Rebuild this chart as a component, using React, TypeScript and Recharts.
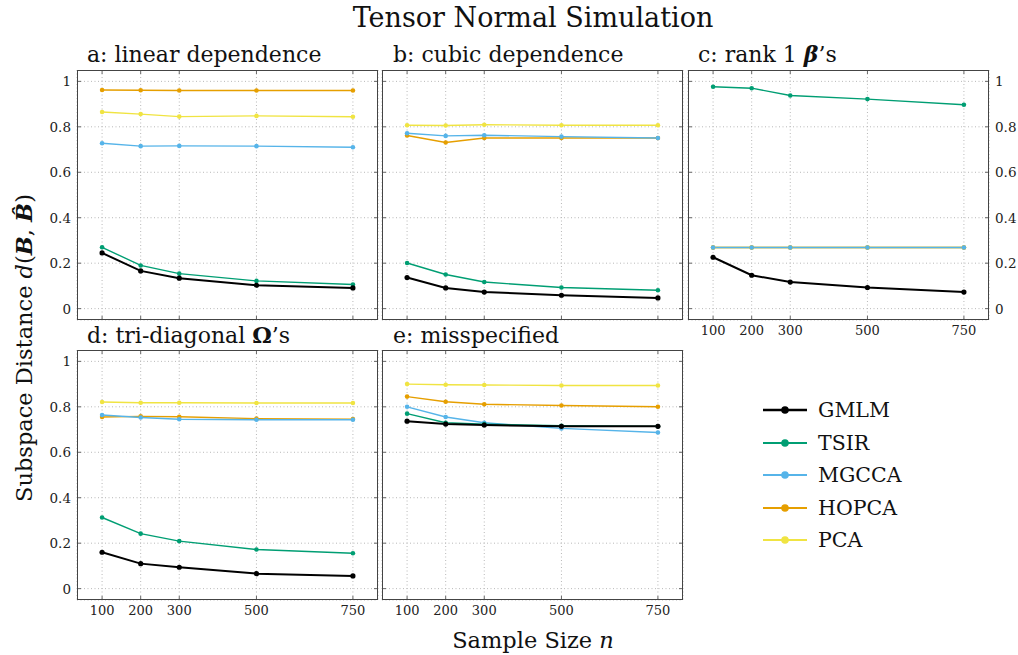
import { CartesianGrid, Line, LineChart, XAxis, YAxis } from "recharts";

const sampleSizes = [100, 200, 300, 500, 750];
const yTicks = [0, 0.2, 0.4, 0.6, 0.8, 1];
const methods = ["GMLM", "TSIR", "MGCCA", "HOPCA", "PCA"];
const methodColors: Record<string, string> = {
  GMLM: "#000000",
  TSIR: "#009E73",
  MGCCA: "#56B4E9",
  HOPCA: "#E69F00",
  PCA: "#F0E442",
};

// subspace distance per method, one small table per simulation
const linearDependence: Record<string, number[]> = {
  GMLM: [0.245, 0.166, 0.134, 0.103, 0.091],
  TSIR: [0.27, 0.19, 0.154, 0.122, 0.106],
  MGCCA: [0.728, 0.715, 0.716, 0.715, 0.71],
  HOPCA: [0.962, 0.961, 0.96, 0.96, 0.96],
  PCA: [0.865, 0.856, 0.845, 0.848, 0.844],
};
const cubicDependence: Record<string, number[]> = {
  GMLM: [0.137, 0.091, 0.073, 0.059, 0.047],
  TSIR: [0.201, 0.15, 0.117, 0.093, 0.081],
  MGCCA: [0.772, 0.76, 0.763, 0.757, 0.751],
  HOPCA: [0.762, 0.731, 0.751, 0.751, 0.751],
  PCA: [0.807, 0.806, 0.809, 0.807, 0.807],
};
const rankOne: Record<string, number[]> = {
  GMLM: [0.226, 0.147, 0.117, 0.093, 0.073],
  TSIR: [0.976, 0.97, 0.938, 0.922, 0.897],
  MGCCA: [0.269, 0.269, 0.269, 0.269, 0.269],
  HOPCA: [0.269, 0.269, 0.269, 0.269, 0.269],
  PCA: [0.269, 0.269, 0.269, 0.269, 0.269],
};
const triDiagonal: Record<string, number[]> = {
  GMLM: [0.16, 0.11, 0.094, 0.066, 0.056],
  TSIR: [0.313, 0.242, 0.209, 0.172, 0.156],
  MGCCA: [0.764, 0.753, 0.745, 0.743, 0.743],
  HOPCA: [0.755, 0.758, 0.756, 0.748, 0.746],
  PCA: [0.821, 0.818, 0.818, 0.817, 0.817],
};
const misspecified: Record<string, number[]> = {
  GMLM: [0.737, 0.724, 0.72, 0.714, 0.714],
  TSIR: [0.77, 0.73, 0.724, 0.717, 0.714],
  MGCCA: [0.8, 0.755, 0.73, 0.705, 0.687],
  HOPCA: [0.845, 0.822, 0.811, 0.806, 0.8],
  PCA: [0.9, 0.897, 0.896, 0.894, 0.894],
};

const FONT = "DejaVu Serif";
const PW = 301;
const PH = 250;
const PAD_L = 40;
const PAD_R = 40;
const PAD_B = 30;

function XTick(props: any) {
  const { x, payload, show } = props;
  return (
    <g>
      <line x1={x} x2={x} y1={PH} y2={PH - 4} stroke="#666" />
      <line x1={x} x2={x} y1={0} y2={4} stroke="#666" />
      {show && (
        <text x={x} y={PH + 15} textAnchor="middle" fontSize={13} fontFamily={FONT} fill="#222">
          {payload.value}
        </text>
      )}
    </g>
  );
}

function YTick(props: any) {
  const { y, payload, showLeft, showRight } = props;
  const l = PAD_L;
  const r = PAD_L + PW;
  return (
    <g>
      <line x1={l} x2={l + 4} y1={y} y2={y} stroke="#666" />
      <line x1={r - 4} x2={r} y1={y} y2={y} stroke="#666" />
      {showLeft && (
        <text x={l - 6} y={y + 5} textAnchor="end" fontSize={13.5} fontFamily={FONT} fill="#222">
          {payload.value}
        </text>
      )}
      {showRight && (
        <text x={r + 6} y={y + 5} textAnchor="start" fontSize={13.5} fontFamily={FONT} fill="#222">
          {payload.value}
        </text>
      )}
    </g>
  );
}

interface PanelProps {
  series: Record<string, number[]>;
  left: number;
  top: number;
  showLeft?: boolean;
  showRight?: boolean;
  showX?: boolean;
}

function Panel({ series, left, top, showLeft = false, showRight = false, showX = false }: PanelProps) {
  const rows = sampleSizes.map((n, i) => {
    const row: Record<string, number> = { n };
    methods.forEach((m) => (row[m] = series[m][i]));
    return row;
  });

  return (
    <div style={{ position: "absolute", left: left - PAD_L, top }}>
      <LineChart
        width={PAD_L + PW + PAD_R}
        height={PH + PAD_B}
        data={rows}
        margin={{ top: 0, right: PAD_R, bottom: 0, left: 0 }}
      >
        <CartesianGrid stroke="#b8b8b8" strokeDasharray="1 2.5" />
        <XAxis
          dataKey="n"
          type="number"
          domain={[35, 815]}
          ticks={sampleSizes}
          interval={0}
          height={PAD_B}
          axisLine={false}
          tickLine={false}
          tick={(p: any) => <XTick {...p} show={showX} />}
        />
        <YAxis
          type="number"
          domain={[-0.05, 1.05]}
          ticks={yTicks}
          interval={0}
          width={PAD_L}
          axisLine={false}
          tickLine={false}
          tick={(p: any) => <YTick {...p} showLeft={showLeft} showRight={showRight} />}
        />
        {[...methods].reverse().map((m) => (
          <Line
            key={m}
            dataKey={m}
            stroke={methodColors[m]}
            strokeWidth={m === "GMLM" ? 2 : 1.4}
            dot={{ r: m === "GMLM" ? 2.6 : 2.3, fill: methodColors[m], stroke: "none" }}
            isAnimationActive={false}
          />
        ))}
      </LineChart>
      <div
        style={{
          position: "absolute",
          left: PAD_L,
          top: 0,
          width: PW,
          height: PH,
          border: "1.4px solid #444",
          boxSizing: "border-box",
          pointerEvents: "none",
        }}
      />
    </div>
  );
}

const legendRows = [410, 443, 475, 508, 540];

export default function App() {
  return (
    <div
      style={{
        position: "absolute",
        left: 0,
        top: 0,
        width: 1018,
        height: 655,
        background: "#fff",
        fontFamily: FONT,
      }}
    >
      <Panel series={linearDependence} left={77} top={70} showLeft />
      <Panel series={cubicDependence} left={382} top={70} />
      <Panel series={rankOne} left={688} top={70} showRight showX />
      <Panel series={triDiagonal} left={77} top={350} showLeft showX />
      <Panel series={misspecified} left={382} top={350} showX />

      <svg
        width={1018}
        height={655}
        style={{ position: "absolute", left: 0, top: 0, pointerEvents: "none" }}
        fontFamily={FONT}
        fill="#111"
      >
        <text x={533} y={27} textAnchor="middle" fontSize={27}>
          Tensor Normal Simulation
        </text>
        <text x={87} y={62} fontSize={22}>a: linear dependence</text>
        <text x={393} y={62} fontSize={22}>b: cubic dependence</text>
        <text x={698} y={62} fontSize={22}>
          c: rank 1{" "}
          <tspan fontWeight="bold" fontStyle="italic">β</tspan>’s
        </text>
        <text x={87} y={343} fontSize={22}>
          d: tri-diagonal <tspan fontWeight="bold">Ω</tspan>’s
        </text>
        <text x={393} y={343} fontSize={22}>e: misspecified</text>

        <text x={533} y={648} textAnchor="middle" fontSize={22.5}>
          Sample Size <tspan fontStyle="italic">n</tspan>
        </text>
        <text transform="translate(32,348) rotate(-90)" textAnchor="middle" fontSize={22.5}>
          Subspace Distance <tspan fontStyle="italic">d</tspan>(
          <tspan fontWeight="bold" fontStyle="italic">B</tspan>,{" "}
          <tspan fontWeight="bold" fontStyle="italic">B̂</tspan>)
        </text>

        {methods.map((m, i) => (
          <g key={m}>
            <line
              x1={763}
              x2={807}
              y1={legendRows[i]}
              y2={legendRows[i]}
              stroke={methodColors[m]}
              strokeWidth={m === "GMLM" ? 2.6 : 2.2}
            />
            <circle cx={785} cy={legendRows[i]} r={3.8} fill={methodColors[m]} />
            <text x={818} y={legendRows[i] + 7} fontSize={20.5}>
              {m}
            </text>
          </g>
        ))}
      </svg>
    </div>
  );
}
